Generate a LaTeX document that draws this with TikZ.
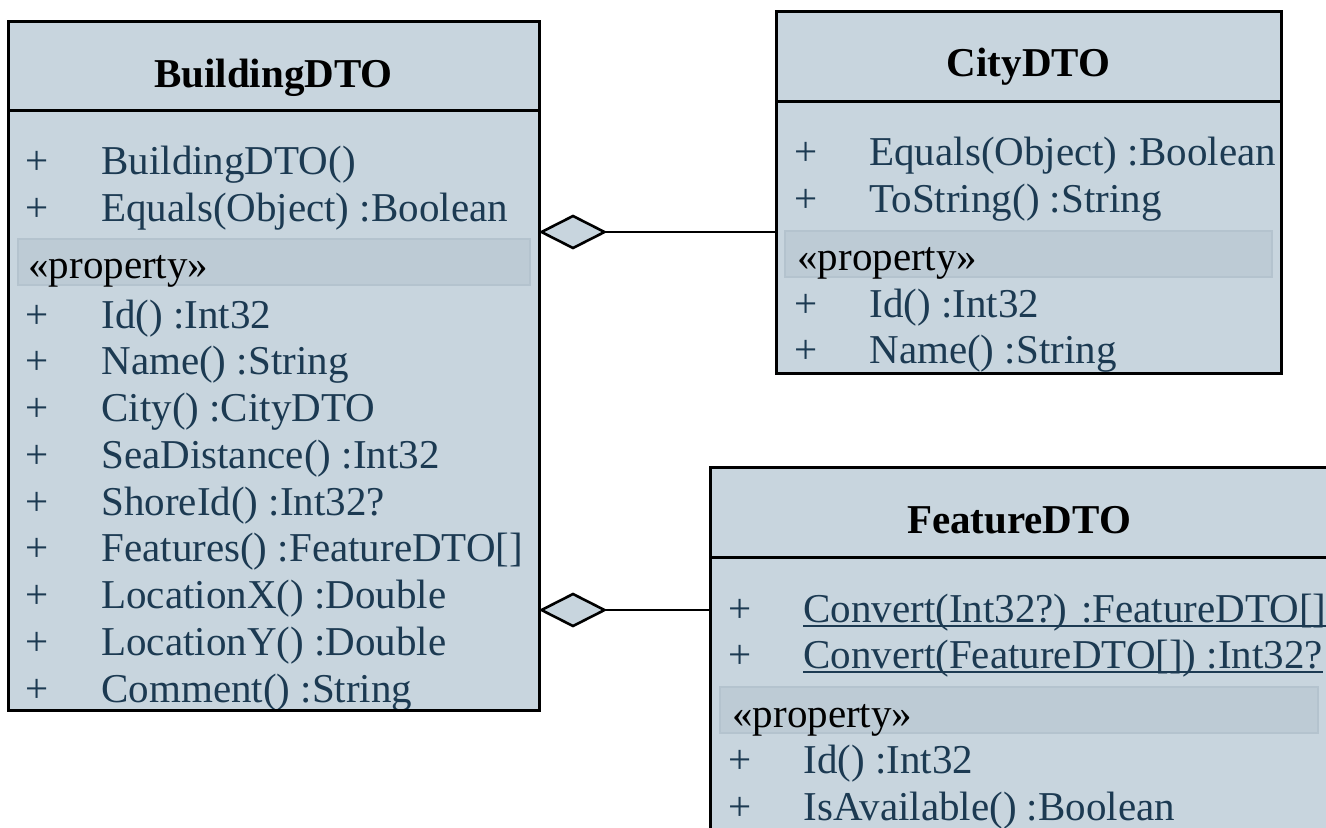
\documentclass[tikz,border=0pt]{standalone}
\usepackage{fontspec}
\setmainfont{Liberation Serif}
\definecolor{boxfill}{RGB}{200,213,222}
\definecolor{bandfill}{RGB}{189,203,213}
\definecolor{bandline}{RGB}{180,195,206}
\definecolor{membertext}{RGB}{28,58,82}
\tikzset{
  classbox/.style={draw=black, line width=1.5pt, fill=boxfill, inner sep=0pt, outer sep=0pt, anchor=north west},
  classtitle/.style={font=\fontsize{20.5}{22}\selectfont\bfseries, anchor=base, inner sep=0pt, text=black},
  member/.style={font=\fontsize{20.5}{22}\selectfont, anchor=base west, inner sep=0pt, text=membertext},
  stereo/.style={member, text=black},
  band/.style={fill=bandfill, draw=bandline, line width=0.75pt, inner sep=0pt, outer sep=0pt, anchor=north west, minimum height=23pt},
  sepline/.style={line width=1.5pt, draw=black},
  uline/.style={line width=1pt, draw=membertext},
  connline/.style={line width=1.15pt, draw=black},
  diam/.style={line width=1.3pt, draw=black, fill=boxfill, line join=miter}
}
\begin{document}
\begin{tikzpicture}[x=0.5pt, y=-0.5pt]
\useasboundingbox (0,0) rectangle (1326,827);
\clip (0,0) rectangle (1326,827);

% class boxes
\node[classbox, minimum width=265.5pt, minimum height=344.5pt] (bld) at (8,21) {};
\node[classbox, minimum width=252.5pt, minimum height=181pt] (city) at (776,11) {};
\node[classbox, minimum width=309pt, minimum height=220pt] (feat) at (710,467) {};

% header separators
\draw[sepline] (bld.west |- 0,110) -- (bld.east |- 0,110);
\draw[sepline] (city.west |- 0,101) -- (city.east |- 0,101);
\draw[sepline] (feat.west |- 0,557) -- (feat.east |- 0,557);

% titles
\node[classtitle] (bldT) at (273.5,87) {BuildingDTO};
\node[classtitle] (cityT) at (1028.5,76) {CityDTO};
\node[classtitle] (featT) at (1019,533) {FeatureDTO};

% property bands
\node[band, minimum width=256pt] (bldB) at (18,239) {};
\node[band, minimum width=243.5pt] (cityB) at (785,231) {};
\node[band, minimum width=299pt] (featB) at (720,687) {};
\node[stereo] (bldS) at (28,278) {«property»};
\node[stereo] (cityS) at (797,270) {«property»};
\node[stereo] (featS) at (732,727) {«property»};

% BuildingDTO members
\foreach \y/\t [count=\i] in {174/{BuildingDTO()}, 221/{Equals(Object) :Boolean},
  328/{Id() :Int32}, 374.75/{Name() :String}, 421.5/{City() :CityDTO},
  468.25/{SeaDistance() :Int32}, 515/{ShoreId() :Int32?}, 561.75/{Features() :FeatureDTO[]},
  608.5/{LocationX() :Double}, 655.25/{LocationY() :Double}, 702/{Comment() :String}} {
  \node[member] (bp\i) at (25,\y) {+};
  \node[member] (bm\i) at (101,\y) {\t};
}

% CityDTO members
\foreach \y/\t [count=\i] in {165/{Equals(Object) :Boolean}, 212/{ToString() :String},
  317/{Id() :Int32}, 363/{Name() :String}} {
  \node[member] (cp\i) at (794,\y) {+};
  \node[member] (cm\i) at (869,\y) {\t};
}

% FeatureDTO members
\foreach \y/\t [count=\i] in {622/{Convert(Int32?) :FeatureDTO[]}, 668/{Convert(FeatureDTO[]) :Int32?},
  773/{Id() :Int32}, 820/{IsAvailable() :Boolean}} {
  \node[member] (fp\i) at (728,\y) {+};
  \node[member] (fm\i) at (803,\y) {\t};
}
\draw[uline] ([yshift=-2pt]fm1.base west) -- ([yshift=-2pt]fm1.base east);
\draw[uline] ([yshift=-2pt]fm2.base west) -- ([yshift=-2pt]fm2.base east);

% redraw outlines over text
\draw[sepline] (bld.north west) rectangle (bld.south east);
\draw[sepline] (city.north west) rectangle (city.south east);
\draw[sepline] (feat.north west) rectangle (feat.south east);

% aggregations (diamond at BuildingDTO end)
\coordinate (d1) at ([xshift=1.25pt]bld.east |- 0,232);
\coordinate (d2) at ([xshift=1.25pt]bld.east |- 0,610);
\coordinate (d1e) at ([xshift=31.5pt]d1);
\coordinate (d2e) at ([xshift=31.5pt]d2);
\draw[connline] (city.west |- d1) -- (d1e);
\draw[connline] (feat.west |- d2) -- (d2e);
\draw[diam] (d1) -- ++(31.5,-16) -- (d1e) -- ++(-31.5,16) -- cycle;
\draw[diam] (d2) -- ++(31.5,-16) -- (d2e) -- ++(-31.5,16) -- cycle;
\end{tikzpicture}
\end{document}
